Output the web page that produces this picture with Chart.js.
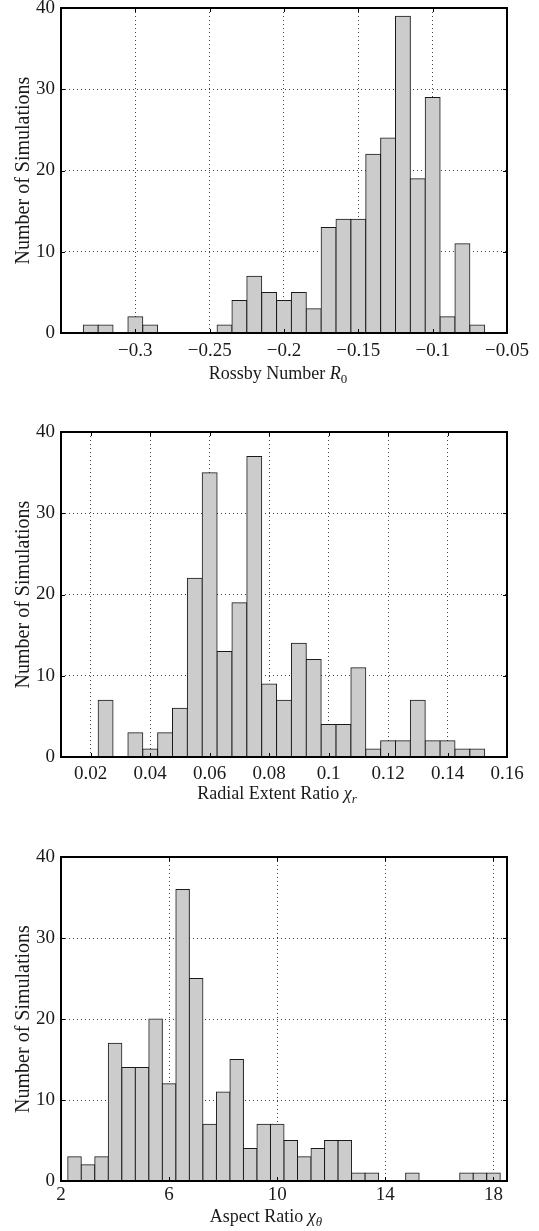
<!DOCTYPE html>
<html>
<head>
<meta charset="utf-8">
<script src="https://cdn.jsdelivr.net/npm/chart.js@4.4.1/dist/chart.umd.min.js"></script>
<style>
  body { margin: 0; background: #fff; }
  #page { position: relative; width: 539px; height: 1231px; overflow: hidden; }
  .panel { position: absolute; left: 0; }
  .xlabel {
    position: absolute; transform: translate(-50%, -50%); white-space: nowrap;
    font-family: 'Liberation Serif', serif; font-size: 18px; color: #1a1a1a; line-height: 1;
  }
  .xlabel sub { font-size: 0.72em; vertical-align: -0.3em; line-height: 0; }
</style>
</head>
<body>
<div id="page">
  <canvas id="rossbyChart" class="panel" width="539" height="400" style="top:0px"></canvas>
  <canvas id="radialChart" class="panel" width="539" height="410" style="top:400px"></canvas>
  <canvas id="aspectChart" class="panel" width="539" height="421" style="top:810px"></canvas>
  <div class="xlabel" style="left:278px; top:373px">Rossby Number <i>R</i><sub>0</sub></div>
  <div class="xlabel" style="left:277px; top:793px">Radial Extent Ratio <i>χ<sub>r</sub></i></div>
  <div class="xlabel" style="left:266px; top:1216px">Aspect Ratio <i>χ<sub>θ</sub></i></div>
</div>
<script>
// Data: histogram bin centres and counts
const rossbyBins = [-0.33, -0.32, -0.31, -0.30, -0.29, -0.28, -0.27, -0.26, -0.25, -0.24, -0.23, -0.22, -0.21, -0.20,
    -0.19, -0.18, -0.17, -0.16, -0.15, -0.14, -0.13, -0.12, -0.11, -0.10, -0.09, -0.08, -0.07];
const rossbyCounts = [1, 1, 0, 2, 1, 0, 0, 0, 0, 1, 4, 7, 5, 4, 5, 3, 13, 14, 14, 22, 24, 39, 19, 29, 2, 11, 1];
const rossbyTicks = [-0.3, -0.25, -0.2, -0.15, -0.1, -0.05];
const rossbyTickLabels = ["−0.3", "−0.25", "−0.2", "−0.15", "−0.1", "−0.05"];

const radialBins = [0.025, 0.030, 0.035, 0.040, 0.045, 0.050, 0.055, 0.060, 0.065, 0.070, 0.075, 0.080, 0.085,
    0.090, 0.095, 0.100, 0.105, 0.110, 0.115, 0.120, 0.125, 0.130, 0.135, 0.140, 0.145, 0.150];
const radialCounts = [7, 0, 3, 1, 3, 6, 22, 35, 13, 19, 37, 9, 7, 14, 12, 4, 4, 11, 1, 2, 2, 7, 2, 2, 1, 1];
const radialTicks = [0.02, 0.04, 0.06, 0.08, 0.1, 0.12, 0.14, 0.16];
const radialTickLabels = ["0.02", "0.04", "0.06", "0.08", "0.1", "0.12", "0.14", "0.16"];

const aspectBins = [2.5, 3.0, 3.5, 4.0, 4.5, 5.0, 5.5, 6.0, 6.5, 7.0, 7.5, 8.0, 8.5, 9.0, 9.5, 10.0,
    10.5, 11.0, 11.5, 12.0, 12.5, 13.0, 13.5, 14.0, 14.5, 15.0, 15.5, 16.0, 16.5, 17.0, 17.5, 18.0];
const aspectCounts = [3, 2, 3, 17, 14, 14, 20, 12, 36, 25, 7, 11, 15, 4, 7, 7, 5, 3, 4, 5, 5, 1, 1, 0, 0, 1, 0, 0, 0, 1, 1, 1];
const aspectTicks = [2, 6, 10, 14, 18];
const aspectTickLabels = ["2", "6", "10", "14", "18"];

const countTicks = [0, 10, 20, 30, 40];
const countTickLabels = ["0", "10", "20", "30", "40"];

// MATLAB-like frame: solid box and inward tick marks
const frameTicks = {
    id: 'frameTicks',
    afterDatasetsDraw(chart) {
        const {ctx, chartArea: a, scales: {x, y}} = chart;
        ctx.save();
        ctx.strokeStyle = '#000';
        ctx.lineWidth = 1;
        ctx.beginPath();
        x.ticks.forEach(t => {
            const px = Math.round(x.getPixelForValue(t.value)) + 0.5;
            ctx.moveTo(px, a.bottom); ctx.lineTo(px, a.bottom - 4);
            ctx.moveTo(px, a.top); ctx.lineTo(px, a.top + 4);
        });
        y.ticks.forEach(t => {
            const py = Math.round(y.getPixelForValue(t.value)) + 0.5;
            ctx.moveTo(a.left, py); ctx.lineTo(a.left + 4, py);
            ctx.moveTo(a.right, py); ctx.lineTo(a.right - 4, py);
        });
        ctx.stroke();
        ctx.lineWidth = 2;
        ctx.strokeRect(a.left, a.top, a.width, a.height);
        ctx.restore();
    }
};

const serif = "'Liberation Serif', 'DejaVu Serif', serif";

function histogram(id, bins, counts, xMin, xMax, xTicks, xLabels, topPad, xHeight, xPad) {
    const cv = document.getElementById(id).getContext('2d');
    return new Chart(cv, {
        type: 'bar',
        data: {
            datasets: [{
                data: bins.map((b, i) => ({x: b, y: counts[i]})),
                backgroundColor: '#cccccc',
                borderColor: '#1a1a1a',
                borderWidth: 1,
                inflateAmount: 0.5,
                barPercentage: 1,
                categoryPercentage: 1
            }]
        },
        options: {
            responsive: false,
            animation: false,
            layout: {padding: {left: 0, right: 32, top: topPad, bottom: 0}},
            scales: {
                x: {
                    type: 'linear',
                    min: xMin,
                    max: xMax,
                    offset: false,
                    afterBuildTicks: s => { s.ticks = xTicks.map(v => ({value: v})); },
                    afterFit: s => { s.height = xHeight; s.paddingLeft = 0; s.paddingRight = 0; },
                    grid: {
                        offset: false,
                        drawTicks: false,
                        color: 'rgba(0,0,0,0.75)',
                        lineWidth: 1
                    },
                    border: {display: false, dash: [1, 3]},
                    ticks: {
                        padding: xPad,
                        maxRotation: 0,
                        autoSkip: false,
                        color: '#1a1a1a',
                        font: {family: serif, size: 19},
                        callback: (v, i) => xLabels[i]
                    }
                },
                y: {
                    min: 0,
                    max: 40,
                    afterBuildTicks: s => { s.ticks = countTicks.map(v => ({value: v})); },
                    afterFit: s => { s.width = 61; s.paddingTop = 0; s.paddingBottom = 0; },
                    grid: {
                        drawTicks: false,
                        color: 'rgba(0,0,0,0.75)',
                        lineWidth: 1
                    },
                    border: {display: false, dash: [1, 3]},
                    ticks: {
                        padding: 6,
                        color: '#1a1a1a',
                        font: {family: serif, size: 19},
                        callback: (v, i) => countTickLabels[i]
                    },
                    title: {
                        display: true,
                        text: 'Number of Simulations',
                        color: '#1a1a1a',
                        padding: {top: 12, bottom: 0},
                        font: {family: serif, size: 20}
                    }
                }
            },
            plugins: {
                legend: {display: false},
                tooltip: {enabled: false}
            }
        },
        plugins: [frameTicks]
    });
}

const rossbyChart = histogram('rossbyChart', rossbyBins, rossbyCounts, -0.35, -0.05,
    rossbyTicks, rossbyTickLabels, 8, 67, 7);
const radialChart = histogram('radialChart', radialBins, radialCounts, 0.01, 0.16,
    radialTicks, radialTickLabels, 32, 53, 6);
const aspectChart = histogram('aspectChart', aspectBins, aspectCounts, 2, 18.5,
    aspectTicks, aspectTickLabels, 47, 50, 3);
</script>
</body>
</html>
